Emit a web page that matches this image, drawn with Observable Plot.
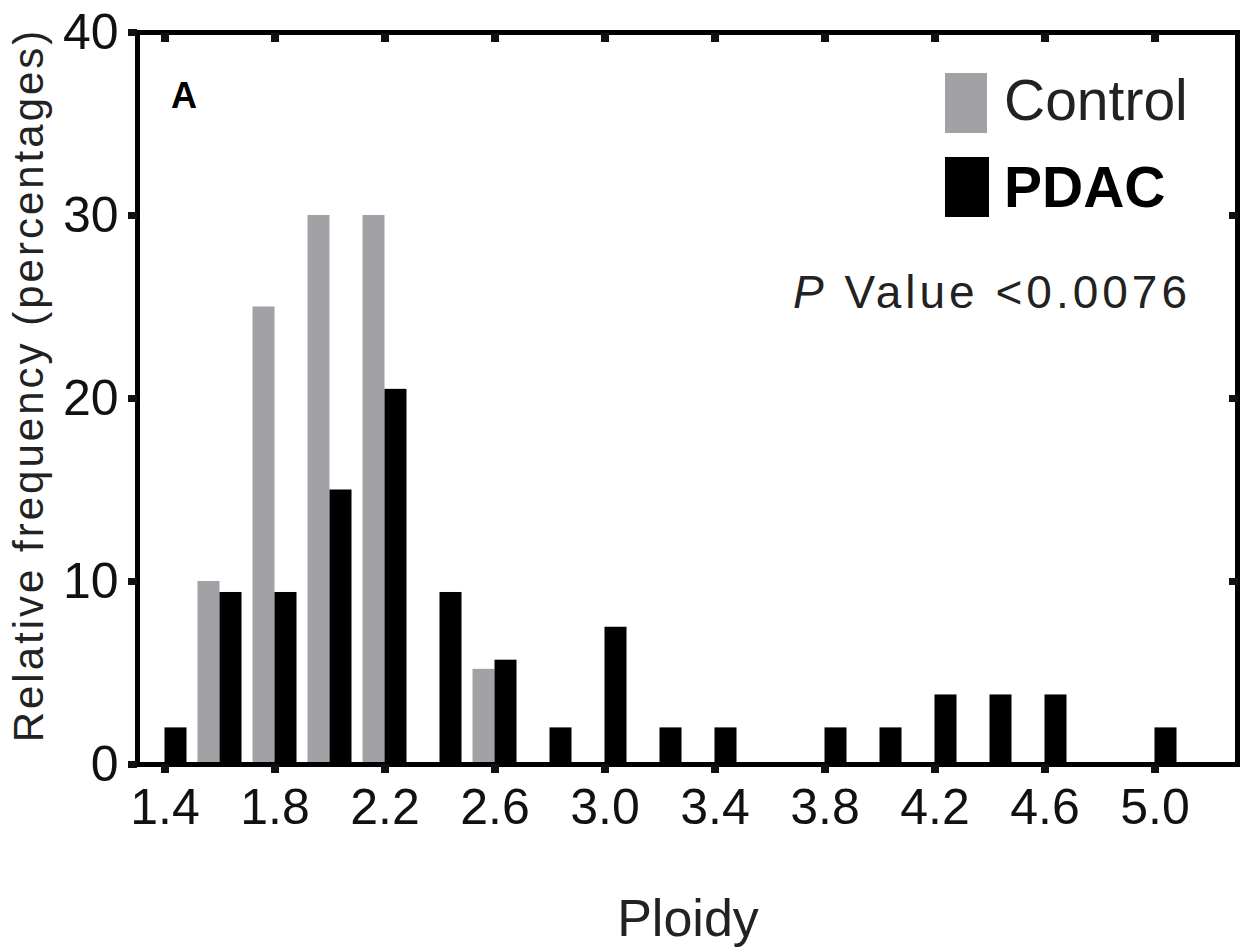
<!DOCTYPE html>
<html>
<head>
<meta charset="utf-8">
<script src="https://cdn.jsdelivr.net/npm/d3@7"></script>
<script src="https://cdn.jsdelivr.net/npm/@observablehq/plot@0.6"></script>
<style>
  html, body { margin: 0; padding: 0; background: #fff; }
  #chart svg { display: block; }
</style>
</head>
<body>
<div id="chart"></div>
<script>
// ---- data ----
const ploidyBins  = [1.4, 1.6, 1.8, 2.0, 2.2, 2.4, 2.6, 2.8, 3.0, 3.2, 3.4, 3.6, 3.8, 4.0, 4.2, 4.4, 4.6, 4.8, 5.0];
const controlFreq = [0, 10, 25, 30, 30, 0, 5.2, 0, 0, 0, 0, 0, 0, 0, 0, 0, 0, 0, 0];
const pdacFreq    = [2.0, 9.4, 9.4, 15.0, 20.5, 9.4, 5.7, 2.0, 7.5, 2.0, 2.0, 0, 2.0, 2.0, 3.8, 3.8, 3.8, 0, 2.0];
const seriesNames  = ["Control", "PDAC"];
const seriesColors = ["#a2a1a6", "#000000"];
const xTicks = [1.4, 1.8, 2.2, 2.6, 3.0, 3.4, 3.8, 4.2, 4.6, 5.0];
const yTicks = [0, 10, 20, 30, 40];
const yInnerTicks = [10, 20, 30];
const xDomain = [1.3, 5.3];
const yDomain = [0, 40];
const barWidth = 0.08;
const xTitle = "Ploidy";
const yTitle = "Relative frequency (percentages)";
const panelLabel = "A";
const pValueText = " Value <0.0076";

const rows = ploidyBins.flatMap((b, i) => [
  {ploidy: b, series: seriesNames[0], freq: controlFreq[i]},
  {ploidy: b, series: seriesNames[1], freq: pdacFreq[i]}
]).filter(d => d.freq > 0);

const font = "'Liberation Sans', Arial, Helvetica, sans-serif";

const chart = Plot.plot({
  width: 1243,
  height: 947,
  marginLeft: 137,
  marginRight: 6,
  marginTop: 32,
  marginBottom: 183,
  style: {fontFamily: font, color: "#111", background: "#fff"},
  x: {domain: xDomain},
  y: {domain: yDomain},
  color: {domain: seriesNames, range: seriesColors},
  marks: [
    Plot.rectY(rows, {
      x1: d => d.series === seriesNames[0] ? d.ploidy - barWidth : d.ploidy,
      x2: d => d.series === seriesNames[0] ? d.ploidy : d.ploidy + barWidth,
      y: "freq",
      fill: "series"
    }),
    Plot.frame({stroke: "#000", strokeWidth: 5}),
    Plot.axisX(xTicks, {anchor: "bottom", tickSize: 9, tickPadding: 15, strokeWidth: 8,
      fontSize: 50, tickFormat: d => d.toFixed(1), label: null}),
    Plot.axisX(xTicks, {anchor: "top", tickSize: 9, dy: 9, strokeWidth: 8,
      tickFormat: () => "", label: null}),
    Plot.axisY(yTicks, {anchor: "left", tickSize: 9, tickPadding: 10, strokeWidth: 7,
      fontSize: 50, label: null}),
    Plot.axisY(yInnerTicks, {anchor: "right", tickSize: 9, dx: -9, strokeWidth: 7,
      tickFormat: () => "", label: null})
  ]
});

document.getElementById("chart").appendChild(chart);

// ---- annotations: titles, panel label, legend, p-value ----
const svg = d3.select(chart);
const ann = svg.append("g").attr("font-family", font).attr("text-anchor", "start");

ann.append("text")
  .attr("transform", "translate(43,385) rotate(-90)")
  .attr("text-anchor", "middle")
  .attr("font-size", 42)
  .attr("letter-spacing", 3)
  .attr("fill", "#222")
  .text(yTitle);

ann.append("text")
  .attr("x", 688).attr("y", 936)
  .attr("text-anchor", "middle")
  .attr("font-size", 52)
  .attr("fill", "#222")
  .text(xTitle);

ann.append("text")
  .attr("x", 171).attr("y", 108)
  .attr("text-anchor", "start")
  .attr("font-size", 36).attr("font-weight", "bold")
  .attr("fill", "#000")
  .text(panelLabel);

const legendY = [73, 157];
const legendBase = [120, 207];
seriesNames.forEach((name, i) => {
  ann.append("rect")
    .attr("x", 945).attr("y", legendY[i])
    .attr("width", i === 0 ? 42 : 44).attr("height", 60)
    .attr("fill", seriesColors[i]);
  ann.append("text")
    .attr("x", 1004).attr("y", legendBase[i])
    .attr("text-anchor", "start")
    .attr("font-size", 57)
    .attr("font-weight", i === 1 ? "bold" : "normal")
    .attr("fill", i === 1 ? "#000" : "#222")
    .text(name);
});

const pv = ann.append("text")
  .attr("x", 1191).attr("y", 308)
  .attr("text-anchor", "end")
  .attr("font-size", 46)
  .attr("letter-spacing", 4)
  .attr("fill", "#222");
pv.append("tspan").attr("font-style", "italic").text("P");
pv.append("tspan").text(pValueText);
</script>
</body>
</html>
